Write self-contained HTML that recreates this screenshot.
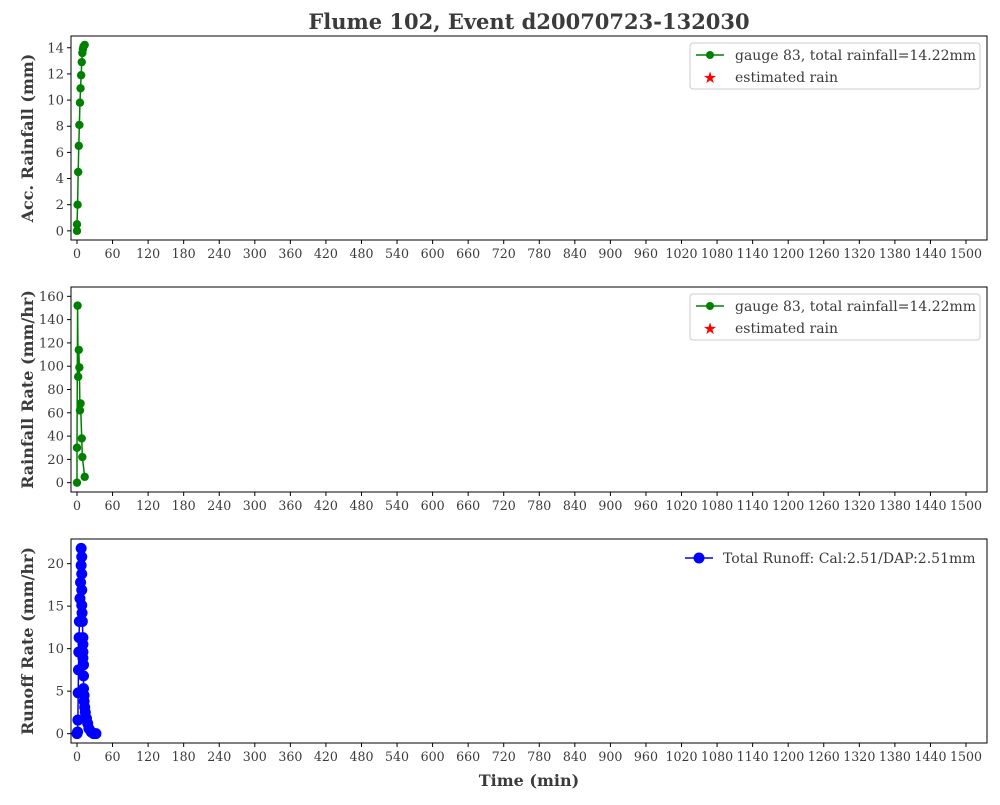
<!DOCTYPE html>
<html><head><meta charset="utf-8"><style>
body{margin:0;background:#fff}
svg text{font-family:"DejaVu Serif","Liberation Serif",serif;fill:#3b3b3b}
</style></head><body>
<svg id="c" width="1000" height="800" xmlns="http://www.w3.org/2000/svg">
<text x="529" y="29" text-anchor="middle" font-size="21" font-weight="bold">Flume 102, Event d20070723-132030</text>
<text x="529" y="786" text-anchor="middle" font-size="16" font-weight="bold">Time (min)</text>
</svg>
<script>
const xTicks=[0,60,120,180,240,300,360,420,480,540,600,660,720,780,840,900,960,1020,1080,1140,1200,1260,1320,1380,1440,1500];
const accT=[0,0,1,2,3,4,5,6,7,8,9,10,11,13];
const accV=[0,0.5,2,4.5,6.5,8.1,9.8,10.9,11.9,12.9,13.6,13.9,14.1,14.22];
const rateT=[0,0,1,2,3,4,5,6,8,9,13];
const rateV=[0,30,152,91,114,99,62,68,38,22,5];
const runT=[0,1,1.5,2,2.5,3,3.5,4,5,6,7,7,8,8,8,8,8.5,9,10,10,10,10,11,11,11,12,12,13,14,16,18,20,24,28,32];
const runV=[0,0.2,1.6,4.8,7.5,9.6,11.3,13.2,15.9,17.8,19.8,21.8,20.8,18.8,16.9,15.1,14.2,13.2,11.3,10.5,9.6,8.9,8.1,6.8,5.3,4.5,3.8,3.1,2.5,1.8,1.2,0.6,0.2,0,0];
const accTicks=[0,2,4,6,8,10,12,14];
const rateTicks=[0,20,40,60,80,100,120,140,160];
const runTicks=[0,5,10,15,20];
const NS="http://www.w3.org/2000/svg";
const svg=document.getElementById('c');
function el(t,a,p){const e=document.createElementNS(NS,t);for(const k in a)e.setAttribute(k,a[k]);(p||svg).appendChild(e);return e;}
const X0=71,X1=987;
const sx=v=>77+(v)*889/1500;
function panel(top,bot,ymin,ymax,yticks,ytitle,name){
  const g=el('g',{});
  
  
  const sy=v=>bot-(v-ymin)/(ymax-ymin)*(bot-top);
  xTicks.forEach(t=>{const x=sx(t);
    const l=el('line',{x1:x,x2:x,y1:bot,y2:bot+4,stroke:'#000'},g);
    
    const tx=el('text',{x:x,y:bot+18,'text-anchor':'middle','font-size':'12.6'},g);tx.textContent=t;
    });
  yticks.forEach(t=>{const y=sy(t);
    el('line',{x1:X0-4,x2:X0,y1:y,y2:y,stroke:'#000'},g);
    const tx=el('text',{x:X0-7,y:y+4.5,'text-anchor':'end','font-size':'13.2'},g);tx.textContent=t;
    });
  const yt=el('text',{x:0,y:0,transform:`translate(33,${(top+bot)/2}) rotate(-90)`,'text-anchor':'middle','font-size':'16','font-weight':'bold'},g);
  yt.textContent=ytitle;
  
  return {g,sy,top,bot};
}
function frame(p){el('rect',{x:X0,y:p.top,width:X1-X0,height:p.bot-p.top,fill:'none',stroke:'#000','stroke-width':1},p.g);}
function series(p,T,V,color,r,w,name){
  const s=el('g',{},p.g);
  
  el('polyline',{points:T.map((t,i)=>sx(t)+','+p.sy(V[i])).join(' '),fill:'none',stroke:color,'stroke-width':w},s);
  T.forEach((t,i)=>{const c=el('circle',{cx:sx(t),cy:p.sy(V[i]),r:r,fill:color},s);
    });
}
function legend(p,x,y,w,h,items){
  const g=el('g',{},p.g);
  
  el('rect',{x:x,y:y,width:w,height:h,rx:3,fill:'#fff',stroke:'#ccc'},g);
  items.forEach((it,i)=>{const yy=y+12+i*22;
    if(it.type==='line'){el('line',{x1:x+6,x2:x+34,y1:yy,y2:yy,stroke:it.color,'stroke-width':it.w},g);el('circle',{cx:x+20,cy:yy,r:it.r,fill:it.color},g);}
    else{const tx=el('text',{x:x+20,y:yy+6,'text-anchor':'middle','font-size':'16',style:'fill:red'},g);tx.textContent='★';}
    const t=el('text',{x:x+45,y:yy+5,'font-size':'14'},g);t.textContent=it.label;
    });
}
const p1=panel(36,240,-0.7,14.9,accTicks,'Acc. Rainfall (mm)','rainfall-panel');
series(p1,accT,accV,'green',4.2,1.5,'acc-rainfall-series');frame(p1);
legend(p1,690,43,290,46,[{type:'line',color:'green',r:4,w:1.5,label:'gauge 83, total rainfall=14.22mm'},{type:'star',label:'estimated rain'}]);
const p2=panel(287,492,-8,168,rateTicks,'Rainfall Rate (mm/hr)','rate-panel');
series(p2,rateT,rateV,'green',4.2,1.5,'rainfall-rate-series');frame(p2);
legend(p2,690,294,290,46,[{type:'line',color:'green',r:4,w:1.5,label:'gauge 83, total rainfall=14.22mm'},{type:'star',label:'estimated rain'}]);
const p3=panel(539,743,-1.1,22.9,runTicks,'Runoff Rate (mm/hr)','runoff-panel');
series(p3,runT,runV,'blue',5.5,1.5,'runoff-series');frame(p3);
const lg=el('g',{},p3.g);

el('line',{x1:685,x2:713,y1:558,y2:558,stroke:'blue','stroke-width':1.5},lg);
el('circle',{cx:699,cy:558,r:5.5,fill:'blue'},lg);
const lt=el('text',{x:723,y:563,'font-size':'14'},lg);lt.textContent='Total Runoff: Cal:2.51/DAP:2.51mm';

</script>
</body></html>
